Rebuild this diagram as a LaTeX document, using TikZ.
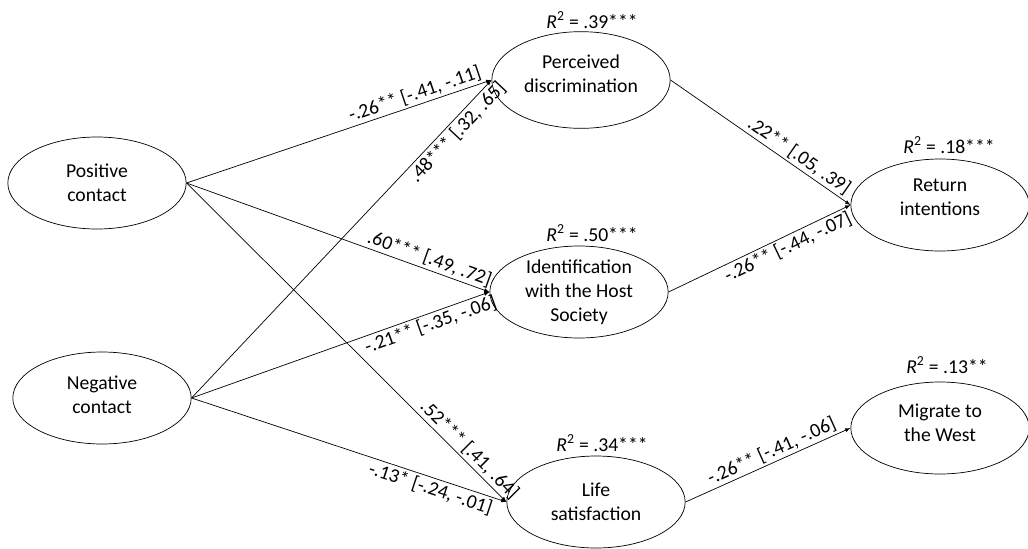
\documentclass[tikz,border=0pt]{standalone}
\usepackage{fontspec}
\setmainfont{Carlito}
\usetikzlibrary{arrows,shapes.geometric,positioning}

% deepens the last text line so the lines sit higher in the ellipse
\newcommand{\dropstrut}[1]{\rule[-#1]{0pt}{0pt}}

\begin{document}
\begin{tikzpicture}[
            x = 0.03cm, y = -0.03cm, % one unit = one pixel of the layout
            > = latex, % arrow head style
            semithick, % line style
            font = \fontsize{16.8}{20.4}\selectfont,
            latent/.style = {draw, ellipse, align=center, inner sep=0pt,
                             minimum width=5.35cm, minimum height=2.76cm},
            rsq/.style = {inner sep=1pt},
            coef/.style = {sloped, inner sep=2pt}
        ]

	\useasboundingbox (0,0) rectangle (1028,548);

	% predictors
	\node[latent] (PC) at (97,183) {Positive\\contact};
	\node[latent] (NC) at (102,398) {Negative\\contact\dropstrut{0.18cm}};

	% mediators
	\node[latent, minimum height=2.9cm] (PD) at (581,80) {Perceived\\discrimination\dropstrut{0.36cm}};
	\node[latent] (ID) at (579,292) {Identification\\with the Host\\Society};
	\node[latent] (LS) at (596,502) {Life\\satisfaction};

	% outcomes
	\node[latent] (RI) at (940,205) {Return\\intentions\dropstrut{0.48cm}};
	\node[latent] (MW) at (940,428) {Migrate to\\the West\dropstrut{0.3cm}};

	% explained variance
	\node[rsq] (PDr) at (592,20) {\textit{R}\textsuperscript{2} = .39***};
	\node[rsq] (IDr) at (592,233) {\textit{R}\textsuperscript{2} = .50***};
	\node[rsq] (LSr) at (602,443) {\textit{R}\textsuperscript{2} = .34***};
	\node[rsq] (RIr) at (949,145) {\textit{R}\textsuperscript{2} = .18***};
	\node[rsq] (MWr) at (947,365) {\textit{R}\textsuperscript{2} = .13**};

	\draw[->] (PC.east) -- node[coef, above, pos=.76] {-.26** [-.41, -.11]} (PD.west);
	\draw[->] (NC.east) -- node[coef, below, pos=.86] {.48*** [.32, .65]} (PD.west);
	\draw[->] (PC.east) -- node[coef, above, pos=.79] {.60*** [.49, .72]} (ID.west);
	\draw[->] (NC.east) -- node[coef, below, pos=.79] {-.21** [-.35, -.06]} (ID.west);
	\draw[->] (PC.east) -- node[coef, above, pos=.86] {.52*** [.41, .64]} (LS.west);
	\draw[->] (NC.east) -- node[coef, below, pos=.77] {-.13* [-.24, -.01]} (LS.west);

	\draw[->] (PD.east) -- node[coef, above, pos=.68] {.22** [.05, .39]} (RI.west);
	\draw[->] (ID.east) -- node[coef, below, pos=.63] {-.26** [-.44, -.07]} (RI.west);
	\draw[->] (LS.east) -- node[coef, above, pos=.55] {-.26** [-.41, -.06]} (MW.west);

\end{tikzpicture}
\end{document}
